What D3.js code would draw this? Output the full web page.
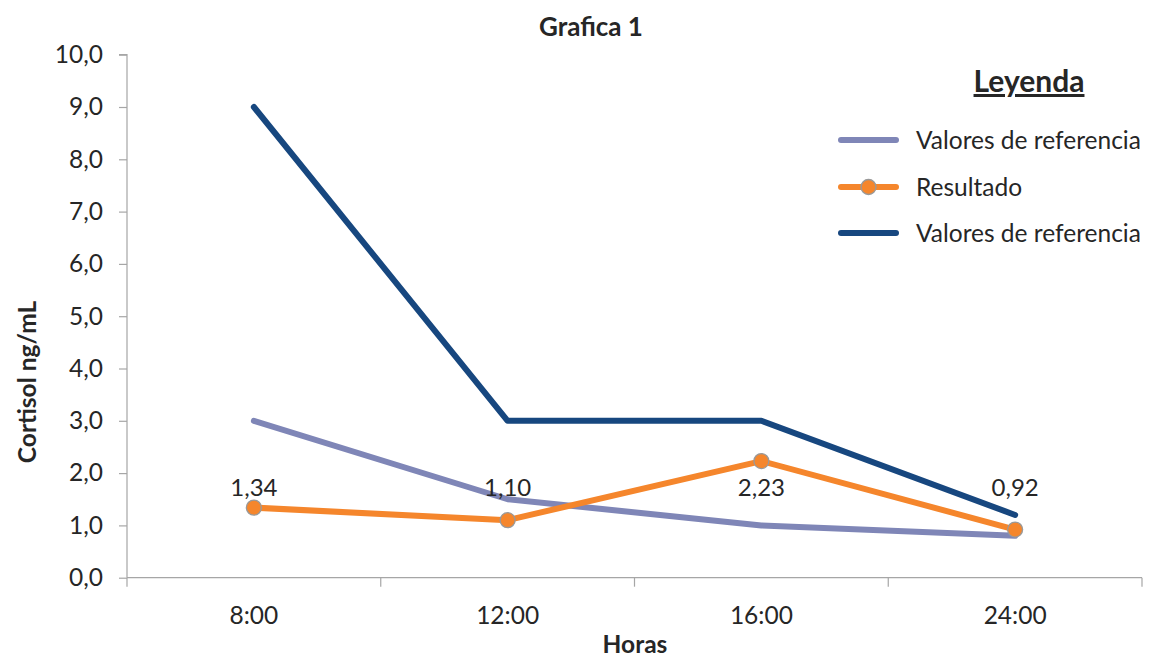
<!DOCTYPE html>
<html><head><meta charset="utf-8">
<script src="https://cdn.jsdelivr.net/npm/d3@7"></script>
<style>body{margin:0;background:#fff;} text{font-family:Lato,"Open Sans",sans-serif;fill:#262626;}</style>
</head><body>
<svg id="c" width="1152" height="657"></svg>
<script>
const categories = ["8:00","12:00","16:00","24:00"];
const refLow = [3.0, 1.5, 1.0, 0.8];
const resultado = [1.34, 1.10, 2.23, 0.92];
const refHigh = [9.0, 3.0, 3.0, 1.2];
const resultLabels = ["1,34","1,10","2,23","0,92"];
const yTicks = [0,1,2,3,4,5,6,7,8,9,10];
const seriesNames = ["Valores de referencia","Resultado","Valores de referencia"];

const svg = d3.select("#c");
const m = {l:127, r:1142, t:54.7, b:577.7};
const x = d3.scaleBand().domain(categories).range([m.l, m.r]);
const y = d3.scaleLinear().domain([0,10]).range([m.b, m.t]);
const fmt = v => d3.format(".1f")(v).replace(".", ",");
const grey = "#a6a6a6";

// y axis
const ya = svg.append("g").attr("transform",`translate(${m.l},0)`)
  .call(d3.axisLeft(y).tickValues(yTicks).tickFormat(fmt).tickSize(8).tickPadding(16));
ya.select(".domain").attr("stroke",grey).attr("stroke-width",1.2).attr("d",`M-8,${m.t}H0V${m.b}`);
ya.selectAll(".tick line").attr("stroke",grey).attr("stroke-width",1.2);
ya.selectAll(".tick text").attr("font-size",24.5).attr("font-family","Lato").attr("fill","#262626");

// x axis
const xa = svg.append("g").attr("transform",`translate(0,${m.b})`)
  .call(d3.axisBottom(x).tickSize(0).tickPadding(29));
xa.select(".domain").attr("stroke",grey).attr("stroke-width",1.2).attr("d",`M${m.l},0H${m.r}`);
xa.selectAll(".tick text").attr("font-size",24.5).attr("font-family","Lato").attr("fill","#262626");
const bounds = categories.map(c => x(c)).concat([m.r]);
svg.append("g").selectAll("line").data(bounds).join("line")
  .attr("x1",d=>d).attr("x2",d=>d).attr("y1",m.b).attr("y2",m.b+9)
  .attr("stroke",grey).attr("stroke-width",1.2);

const cx = c => x(c) + x.bandwidth()/2;
const line = d3.line().x((d,i)=>cx(categories[i])).y(d=>y(d));

const cLow = "#7f86b7", cRes = "#f5862c", cHigh = "#17477f";
svg.append("path").datum(refLow).attr("d",line).attr("fill","none").attr("stroke",cLow).attr("stroke-width",6).attr("stroke-linecap","round").attr("stroke-linejoin","round");
svg.append("path").datum(refHigh).attr("d",line).attr("fill","none").attr("stroke",cHigh).attr("stroke-width",6).attr("stroke-linecap","round").attr("stroke-linejoin","round");
svg.append("path").datum(resultado).attr("d",line).attr("fill","none").attr("stroke",cRes).attr("stroke-width",6).attr("stroke-linecap","round").attr("stroke-linejoin","round");
svg.append("g").selectAll("circle").data(resultado).join("circle")
  .attr("cx",(d,i)=>cx(categories[i])).attr("cy",d=>y(d)).attr("r",7.5)
  .attr("fill",cRes).attr("stroke","#999").attr("stroke-width",1.3);

// data labels (all placed on one row as in the reference)
svg.append("g").selectAll("text").data(resultLabels).join("text")
  .attr("x",(d,i)=>cx(categories[i])).attr("y",y(1.73)+9)
  .attr("text-anchor","middle").attr("font-size",24).text(d=>d);

// titles
svg.append("text").attr("x",591).attr("y",36).attr("text-anchor","middle").attr("font-size",26).attr("font-weight","bold").text("Grafica 1");
svg.append("text").attr("x",635).attr("y",653).attr("text-anchor","middle").attr("font-size",24.5).attr("font-weight","bold").text("Horas");
svg.append("text").attr("transform","translate(36,382) rotate(-90)").attr("text-anchor","middle").attr("font-size",24.5).attr("font-weight","bold").text("Cortisol ng/mL");

// legend
svg.append("text").attr("x",1029).attr("y",92).attr("text-anchor","middle").attr("font-size",30).attr("font-weight","bold").attr("text-decoration","underline").text("Leyenda");
const lg = svg.append("g");
const ly = [140,187,233];
const lc = [cLow,cRes,cHigh];
seriesNames.forEach((n,i)=>{
  lg.append("line").attr("x1",841).attr("x2",896).attr("y1",ly[i]).attr("y2",ly[i]).attr("stroke",lc[i]).attr("stroke-width",6).attr("stroke-linecap","round");
  if(i===1) lg.append("circle").attr("cx",868.5).attr("cy",ly[i]).attr("r",7.5).attr("fill",cRes).attr("stroke","#999").attr("stroke-width",1.3);
  lg.append("text").attr("x",916).attr("y",ly[i]+9).attr("font-size",24.5).text(n);
});
</script>
</body></html>
